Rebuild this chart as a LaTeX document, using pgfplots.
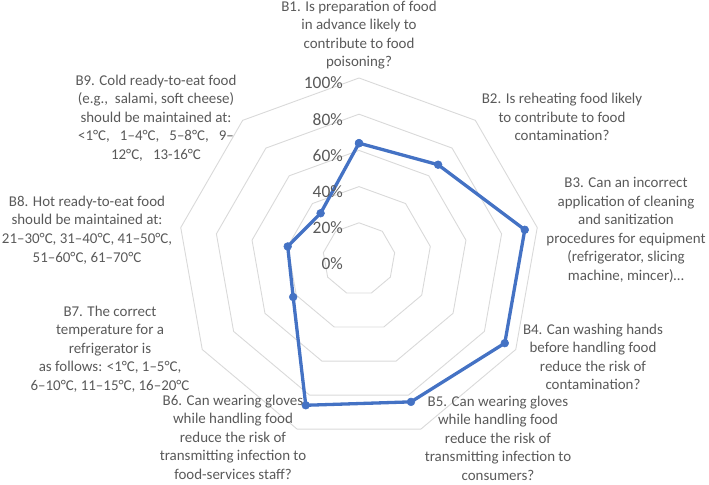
\documentclass[border=0pt]{standalone}
\usepackage{fontspec}
\setmainfont{Carlito}
\usepackage{pgfplots}
\pgfplotsset{compat=1.18}
\usepgfplotslibrary{polar}
\definecolor{txtgray}{HTML}{595959}
\definecolor{gridgray}{HTML}{D9D9D9}
\definecolor{lineblue}{HTML}{4472C4}

% categories at 90, 50, 10, -30, ... degrees (clockwise from top)
\pgfplotstableread{
ang  val
90   64
50   68
10   93
-30  93
-70  84
-110 86
-150 42
-190 40
-230 33
90   64
}\scores

\begin{document}
\begin{tikzpicture}
\useasboundingbox (0,0) rectangle (709bp,485bp);
\begin{polaraxis}[
    at={(359bp,226bp)}, anchor=center,
    scale only axis, width=362bp, height=362bp,
    hide axis, clip=false,
    xmin=0, xmax=360, ymin=0, ymax=100,
]
% Netzlinien (Neuneck) fuer 20 ... 100 %
\foreach \r in {20,40,60,80,100}{
  \edef\temp{\noexpand\addplot[draw=gridgray, line width=0.9bp, no marks] coordinates {
    (90,\r) (50,\r) (10,\r) (-30,\r) (-70,\r) (-110,\r) (-150,\r) (-190,\r) (-230,\r) (90,\r)};}
  \temp
}
\addplot[draw=lineblue, line width=3.3bp, mark=*, mark size=3.9bp,
    mark options={fill=lineblue, draw=lineblue, line width=0.5bp}]
    table[x=ang, y=val] {\scores};
% Achsenbeschriftung
\foreach \r in {0,20,40,60,80,100}{
  \edef\temp{\noexpand\node[anchor=east, text=txtgray, font=\noexpand\fontsize{17.5}{20}\noexpand\selectfont,
      inner sep=0pt, xshift=-16bp, yshift=-5bp] at (axis cs:90,\r) {\r\noexpand\%};}
  \temp
}
\end{polaraxis}

\tikzset{lab/.style={align=center, text=txtgray, inner sep=0pt,
    font=\fontsize{15}{18.6}\selectfont}}
\node[lab] at (359bp,450bp) {B1. Is preparation of food\\in advance likely to\\contribute to food\\poisoning?};
\node[lab] at (562bp,368bp) {B2. Is reheating food likely\\to contribute to food\\contamination?};
\node[lab] at (626bp,255bp) {B3. Can an incorrect\\application of cleaning\\and sanitization\\procedures for equipment\\(refrigerator, slicing\\machine, mincer)…};
\node[lab] at (593bp,128bp) {B4. Can washing hands\\before handling food\\reduce the risk of\\contamination?};
\node[lab] at (498bp,47bp) {B5. Can wearing gloves\\while handling food\\reduce the risk of\\transmitting infection to\\consumers?};
\node[lab] at (233bp,48bp) {B6. Can wearing gloves\\while handling food\\reduce the risk of\\transmitting infection to\\food-services staff?};
\node[lab] at (110bp,136bp) {B7. The correct\\temperature for a\\refrigerator is\\as follows: <1°C, 1–5°C,\\6–10°C, 11–15°C, 16–20°C};
\node[lab] at (87bp,255bp) {B8. Hot ready-to-eat food\\should be maintained at:\\21–30°C, 31–40°C, 41–50°C,\\51–60°C, 61–70°C};
\node[lab] at (156bp,367bp) {B9. Cold ready-to-eat food\\(e.g.,\ \ salami, soft cheese)\\should be maintained at:\\<1°C,\ \ \ 1–4°C,\ \ \ 5–8°C,\ \ \ 9–\\12°C,\ \ \ 13-16°C};
\end{tikzpicture}
\end{document}
